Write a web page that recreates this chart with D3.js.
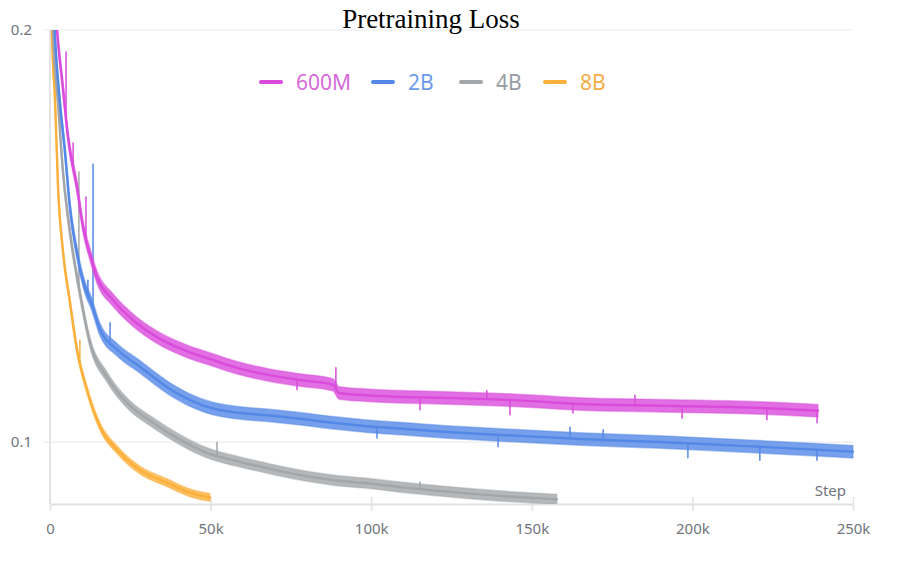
<!DOCTYPE html>
<html>
<head>
<meta charset="utf-8">
<script src="https://cdn.jsdelivr.net/npm/d3@7"></script>
<style>
  body { margin: 0; background: #fff; }
  .tick text { font-family: "Noto Sans", sans-serif; }
</style>
</head>
<body>
<div id="chart"></div>
<script>
// chart size
var svgWidth = 897;
var svgHeight = 579;

var margin = { top: 30, right: 44, bottom: 75, left: 50 };
var width = svgWidth - margin.left - margin.right;
var height = svgHeight - margin.top - margin.bottom;

// data (step in thousands, loss)
var seriesNames = ["600M", "2B", "4B", "8B"];

var steps600M = [0.3, 2.2, 4.0, 5.6, 8.4, 10.3, 12.5, 14.6, 19.6, 25.8, 33.3, 41.4, 50.7, 58.2, 67.6, 77.8, 88.1, 90.0, 98.7, 109.0, 123.6, 144.1, 158.8, 165.0, 189.9, 221.0, 239.1];
var loss600M  = [0.24, 0.200, 0.1817, 0.1671, 0.1536, 0.1436, 0.1370, 0.1320, 0.1270, 0.1228, 0.1193, 0.1168, 0.1148, 0.1133, 0.1120, 0.1110, 0.1101, 0.1086, 0.1082, 0.1079, 0.1077, 0.1073, 0.1068, 0.1066, 0.1063, 0.1059, 0.1054];

var steps2B = [0.2, 1.6, 3.1, 4.7, 6.2, 8.4, 11.5, 12.5, 15.6, 20.9, 28.0, 36.4, 43.6, 50.7, 59.2, 67.6, 77.8, 88.1, 98.7, 109.0, 123.6, 144.1, 165.0, 189.9, 221.0, 250.0];
var loss2B  = [0.24, 0.1967, 0.1769, 0.1626, 0.1485, 0.1374, 0.1285, 0.1270, 0.1208, 0.1168, 0.1135, 0.1097, 0.1073, 0.1058, 0.1050, 0.1046, 0.1040, 0.1033, 0.1027, 0.1023, 0.1017, 0.1011, 0.1005, 0.1000, 0.0992, 0.0984];

var steps4B = [0.2, 0.9, 2.5, 4.0, 6.2, 9.3, 12.5, 17.7, 24.0, 32.1, 40.5, 48.9, 59.2, 67.6, 77.8, 88.1, 98.7, 109.0, 123.6, 144.1, 157.8];
var loss4B  = [0.24, 0.200, 0.1769, 0.1580, 0.1424, 0.1285, 0.1181, 0.1116, 0.1068, 0.1033, 0.1004, 0.0982, 0.0967, 0.0957, 0.0946, 0.0938, 0.0933, 0.0927, 0.0920, 0.0912, 0.0908];

var steps8B = [0.1, 0.6, 1.6, 2.5, 4.0, 6.2, 8.4, 11.5, 15.6, 20.9, 28.0, 36.4, 43.6, 49.8];
var loss8B  = [0.24, 0.200, 0.1769, 0.1536, 0.1381, 0.1266, 0.1168, 0.1092, 0.1026, 0.0987, 0.0954, 0.0934, 0.0918, 0.0911];

// relative spread of the noisy band around each curve
var noise = [0.0105, 0.0105, 0.0085, 0.0065];

// visible spikes [step, loss]
var spikes600M = [[5.0, 0.1927], [7.2, 0.1654], [11.2, 0.1510], [76.9, 0.1092], [89.0, 0.1133], [115.2, 0.1056], [136.0, 0.1090], [143.2, 0.1047], [162.8, 0.1050], [182.1, 0.1082], [196.8, 0.1041], [223.2, 0.1038], [238.8, 0.1033]];
var spikes2B = [[11.8, 0.1313], [13.4, 0.1596], [18.7, 0.1222], [101.8, 0.1007], [139.5, 0.0992], [161.9, 0.1025], [172.2, 0.1021], [198.6, 0.0974], [221.0, 0.0970], [238.8, 0.0970]];
var spikes4B = [[9.0, 0.1575], [52.0, 0.0999], [115.2, 0.0935]];
var spikes8B = [[9.3, 0.1187]];

var xTicks = [0, 50, 100, 150, 200, 250];
var yTicks = [0.1, 0.2];

var lineColors = ["#da4bdc", "#5488e6", "#a2a6a9", "#fbb03b"];
var textColors = ["#d66ad8", "#6d9bec", "#969ca2", "#f6ad48"];

var allSteps = [steps600M, steps2B, steps4B, steps8B];
var allLoss = [loss600M, loss2B, loss4B, loss8B];
var allSpikes = [spikes600M, spikes2B, spikes4B, spikes8B];

var svg = d3.select("#chart")
  .append("svg")
  .attr("width", svgWidth)
  .attr("height", svgHeight)
  .style("background", "white");

var chartGroup = svg.append("g")
  .attr("transform", `translate(${margin.left}, ${margin.top})`);

// scales
var xScale = d3.scaleLinear()
  .domain([0, 250])
  .range([0, width]);

var yScale = d3.scaleLog()
  .domain([0.0901, 0.2])
  .range([height, 0]);

// grid lines
chartGroup.selectAll(".grid")
  .data(yTicks)
  .enter()
  .append("line")
  .attr("x1", -7)
  .attr("x2", width)
  .attr("y1", d => yScale(d))
  .attr("y2", d => yScale(d))
  .attr("stroke", "#ececec")
  .attr("stroke-width", 1.2);

// y labels
chartGroup.selectAll(".ylab")
  .data(yTicks)
  .enter()
  .append("text")
  .attr("x", -18)
  .attr("y", d => yScale(d))
  .attr("dy", "0.35em")
  .attr("text-anchor", "end")
  .attr("font-family", "Noto Sans, sans-serif")
  .attr("font-size", "15px")
  .attr("fill", "#70757c")
  .text(d => d);

// left axis line
chartGroup.append("line")
  .attr("x1", 0).attr("x2", 0)
  .attr("y1", 0).attr("y2", height)
  .attr("stroke", "#e4e4e4")
  .attr("stroke-width", 2);

// bottom axis
var bottomAxis = d3.axisBottom(xScale)
  .tickValues(xTicks)
  .tickSizeInner(7)
  .tickSizeOuter(0)
  .tickPadding(12)
  .tickFormat(d => d === 0 ? "0" : d + "k");

var xAxisG = chartGroup.append("g")
  .attr("transform", `translate(0, ${height})`)
  .call(bottomAxis);

xAxisG.select(".domain")
  .attr("stroke", "#e2e2e2")
  .attr("stroke-width", 2);
xAxisG.selectAll(".tick line")
  .attr("y1", -7)
  .attr("stroke", "#e2e2e2")
  .attr("stroke-width", 1.5);
xAxisG.selectAll(".tick text")
  .attr("font-size", "15px")
  .attr("fill", "#70757c");

chartGroup.append("text")
  .attr("x", width - 7)
  .attr("y", height - 8)
  .attr("text-anchor", "end")
  .attr("font-family", "Noto Sans, sans-serif")
  .attr("font-size", "15px")
  .attr("fill", "#70757c")
  .text("Step");

// clip
svg.append("defs").append("clipPath")
  .attr("id", "plotclip")
  .append("rect")
  .attr("x", 0).attr("y", 0)
  .attr("width", width + 12)
  .attr("height", height);

var plot = chartGroup.append("g")
  .attr("clip-path", "url(#plotclip)");

// 600M ends up on top
var order = [3, 2, 1, 0];
order.forEach(function(i) {
  var pts = allSteps[i].map((s, j) => ({ step: s, loss: allLoss[i][j], noise: noise[i] }));
  var color = lineColors[i];

  var band = d3.area()
    .curve(d3.curveMonotoneX)
    .x(d => xScale(d.step))
    .y0(d => yScale(d.loss * (1 - d.noise)))
    .y1(d => yScale(d.loss * (1 + d.noise)));

  var line = d3.line()
    .curve(d3.curveMonotoneX)
    .x(d => xScale(d.step))
    .y(d => yScale(d.loss));

  plot.append("path")
    .datum(pts)
    .attr("d", band)
    .attr("fill", color)
    .attr("fill-opacity", 0.8)
    .attr("stroke", color)
    .attr("stroke-opacity", 0.45)
    .attr("stroke-width", 1.5)
    .attr("stroke-linejoin", "round");

  plot.append("path")
    .datum(pts)
    .attr("d", line)
    .attr("fill", "none")
    .attr("stroke", color)
    .attr("stroke-width", 2.4)
    .attr("stroke-linecap", "round")
    .attr("stroke-linejoin", "round");

  // spikes from curve to spike value
  var bis = d3.bisector(d => d.step).left;
  plot.selectAll(null)
    .data(allSpikes[i])
    .enter()
    .append("line")
    .attr("x1", d => xScale(d[0]))
    .attr("x2", d => xScale(d[0]))
    .attr("y1", function(d) {
      var k = Math.max(1, Math.min(pts.length - 1, bis(pts, d[0])));
      var a = pts[k - 1], b = pts[k];
      var t = (d[0] - a.step) / (b.step - a.step);
      return yScale(a.loss + t * (b.loss - a.loss));
    })
    .attr("y2", d => yScale(d[1]))
    .attr("stroke", color)
    .attr("stroke-width", 1.5)
    .attr("stroke-linecap", "round");
});

// title
svg.append("text")
  .attr("x", 431)
  .attr("y", 28)
  .attr("text-anchor", "middle")
  .attr("font-family", "Liberation Serif, Times New Roman, serif")
  .attr("font-size", "27px")
  .attr("fill", "#000")
  .text("Pretraining Loss");

// legend
var legendX = [261, 373, 461, 545];
var legend = svg.selectAll(".legend")
  .data(seriesNames)
  .enter()
  .append("g")
  .attr("transform", (d, i) => `translate(${legendX[i]}, 82)`);

legend.append("line")
  .attr("x1", 0).attr("x2", 20)
  .attr("y1", 0).attr("y2", 0)
  .attr("stroke", (d, i) => lineColors[i])
  .attr("stroke-width", 4)
  .attr("stroke-linecap", "round");

legend.append("text")
  .attr("x", 35)
  .attr("y", 0)
  .attr("dy", "0.36em")
  .attr("font-family", "Noto Sans, sans-serif")
  .attr("font-size", "21px")
  .attr("fill", (d, i) => textColors[i])
  .text(d => d);
</script>
</body>
</html>
